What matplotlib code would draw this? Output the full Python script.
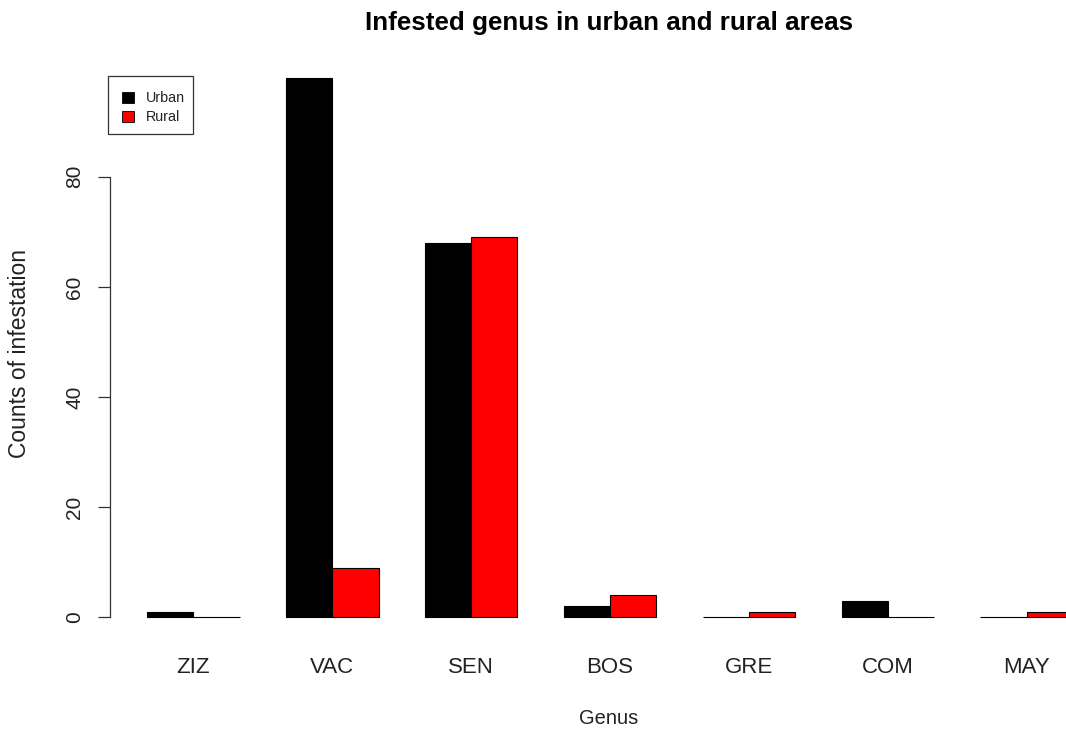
import matplotlib
matplotlib.use("Agg")
import matplotlib.pyplot as plt
import numpy as np
from matplotlib.patches import Rectangle

plt.rcParams['font.family'] = ['Liberation Sans', 'DejaVu Sans']

genus = ["ZIZ", "VAC", "SEN", "BOS", "GRE", "COM", "MAY"]
urban = [1, 98, 68, 2, 0, 3, 0]
rural = [0, 9, 69, 4, 1, 0, 1]
series_names = ["Urban", "Rural"]
series_colors = ["black", "red"]
yticks = [0, 20, 40, 60, 80]

W, H = 1066, 729
fig = plt.figure(figsize=(W/100, H/100), dpi=100)
left_px, right_px, top_px, bot_px = 110, 1066, 56, 639
ax = fig.add_axes([left_px/W, (H-bot_px)/H, (right_px-left_px)/W, (bot_px-top_px)/H])

n = len(genus)
grp = np.arange(n) * 3
ux = grp + 1.5
rx = grp + 2.5
ax.bar(ux, urban, width=1.0, color=series_colors[0], edgecolor="black", linewidth=0.8)
ax.bar(rx, rural, width=1.0, color=series_colors[1], edgecolor="black", linewidth=0.8)

ax.set_xlim(0.2, 0.2 + (right_px - left_px) / 46.3)
ymax = max(max(urban), max(rural))
ax.set_ylim(-0.04*ymax, 1.04*ymax)

for s in ["top", "right", "bottom"]:
    ax.spines[s].set_visible(False)
ax.spines["left"].set_bounds(0, 80)
ax.spines["left"].set_linewidth(0.9)
ax.spines["left"].set_color("#333333")

ax.set_yticks(yticks)
ax.set_yticklabels([str(v) for v in yticks], rotation=90, va="center", fontsize=15, color="#222222")
ax.tick_params(axis="y", length=8.6, width=0.9, color="#333333", pad=10)
ax.set_xticks(grp + 2)
ax.set_xticklabels(genus, fontsize=16, color="#222222")
ax.tick_params(axis="x", length=0, pad=13)

fig.text(20/W, 1 - 353/H, "Counts of infestation", rotation=90, ha="center", va="center", fontsize=16.5, color="#222222")
fig.text(609/W, 1 - 719/H, "Genus", ha="center", va="center", fontsize=14.5, color="#222222")
fig.text(609/W, 1 - 23/H, "Infested genus in urban and rural areas", ha="center", va="center",
         fontsize=18.7, fontweight="bold")

# legend box drawn in figure pixel coordinates
def px(x, y):
    return x / W, 1 - y / H

bx0, by0, bx1, by1 = 108, 76, 193, 134
fig.patches.append(Rectangle(px(bx0, by1), (bx1-bx0)/W, (by1-by0)/H, transform=fig.transFigure,
                             facecolor="white", edgecolor="#333333", linewidth=0.9, zorder=5))
for i, (name, col) in enumerate(zip(series_names, series_colors)):
    cy = 97.7 + i * 19
    fig.patches.append(Rectangle(px(122, cy + 5.5), 12/W, 11/H, transform=fig.transFigure,
                                 facecolor=col, edgecolor="black", linewidth=0.6, zorder=6))
    fig.text(146/W, 1 - cy/H, name, ha="left", va="center", fontsize=10.3, color="#222222", zorder=7)

fig.savefig("out.png", dpi=100)
